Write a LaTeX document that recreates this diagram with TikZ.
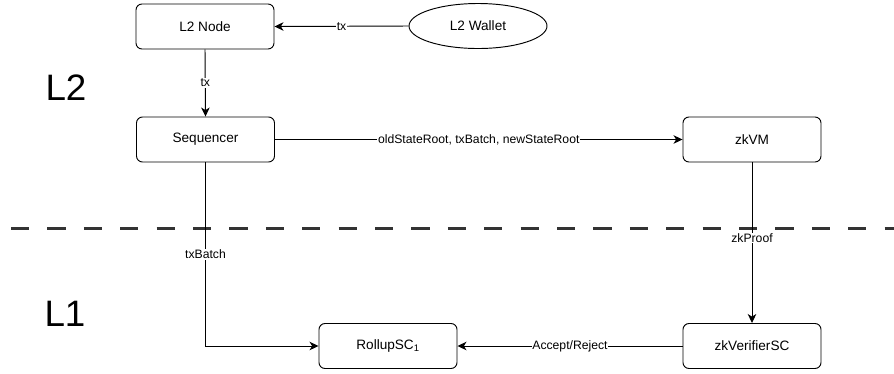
\documentclass[tikz,border=0pt]{standalone}
\usepackage{fontspec}
\setmainfont{Liberation Sans}
\usetikzlibrary{arrows.meta,shapes.geometric}
\begin{document}
\begin{tikzpicture}[x=1pt,y=-1pt,
  box/.style={draw,rounded corners=6pt,minimum width=138pt,minimum height=45pt,inner sep=0pt,line width=0.95pt,font=\fontsize{13.6}{16}\selectfont},
  oval/.style={draw,ellipse,minimum width=138pt,minimum height=45pt,inner sep=0pt,line width=0.95pt,font=\fontsize{13.6}{16}\selectfont},
  lbl/.style={fill=white,inner sep=0.8pt,font=\fontsize{12.2}{14}\selectfont},
  arr/.style={-{Stealth[length=9pt,width=8.5pt,inset=2.6pt]},line width=0.95pt},
  big/.style={inner sep=0pt,font=\fontsize{36.8}{40}\selectfont},
  sep/.style={dash pattern=on 18.2pt off 18.2pt,line width=3pt,color=black!80}
]
\useasboundingbox (0,0) rectangle (894,373);
\coordinate (dl) at (11,228);
\coordinate (dr) at (894,228);
\draw[sep] (dl) -- (dr);

\node[big] (l2) at (66,88) {L2};
\node[big] (l1) at (65,314) {L1};

\node[box] (l2node) at (205,26.5) {L2 Node};
\node[oval] (wallet) at (478,26) {L2 Wallet};
\node[box] (seq) at (205.5,139.5) {Sequencer};
\node[box] (zkvm) at (752,139.5) {zkVM};
\node[box] (rollup) at (388,346) {RollupSC\textsubscript{1}};
\node[box] (ver) at (752,346) {zkVerifierSC};

\draw[arr] (wallet.west) -- node[lbl]{tx} (l2node.east);
\draw[arr] (l2node.south) -- node[lbl]{tx} (seq.north);
\draw[arr] (seq.east) -- node[lbl]{oldStateRoot, txBatch, newStateRoot} (zkvm.west);
\draw[arr] (zkvm.south) -- node[lbl,pos=0.47]{zkProof} (ver.north);
\draw[arr] (seq.south) |- node[lbl,pos=0.25]{txBatch} (rollup.west);
\draw[arr] (ver.west) -- node[lbl]{Accept/Reject} (rollup.east);
\end{tikzpicture}
\end{document}
